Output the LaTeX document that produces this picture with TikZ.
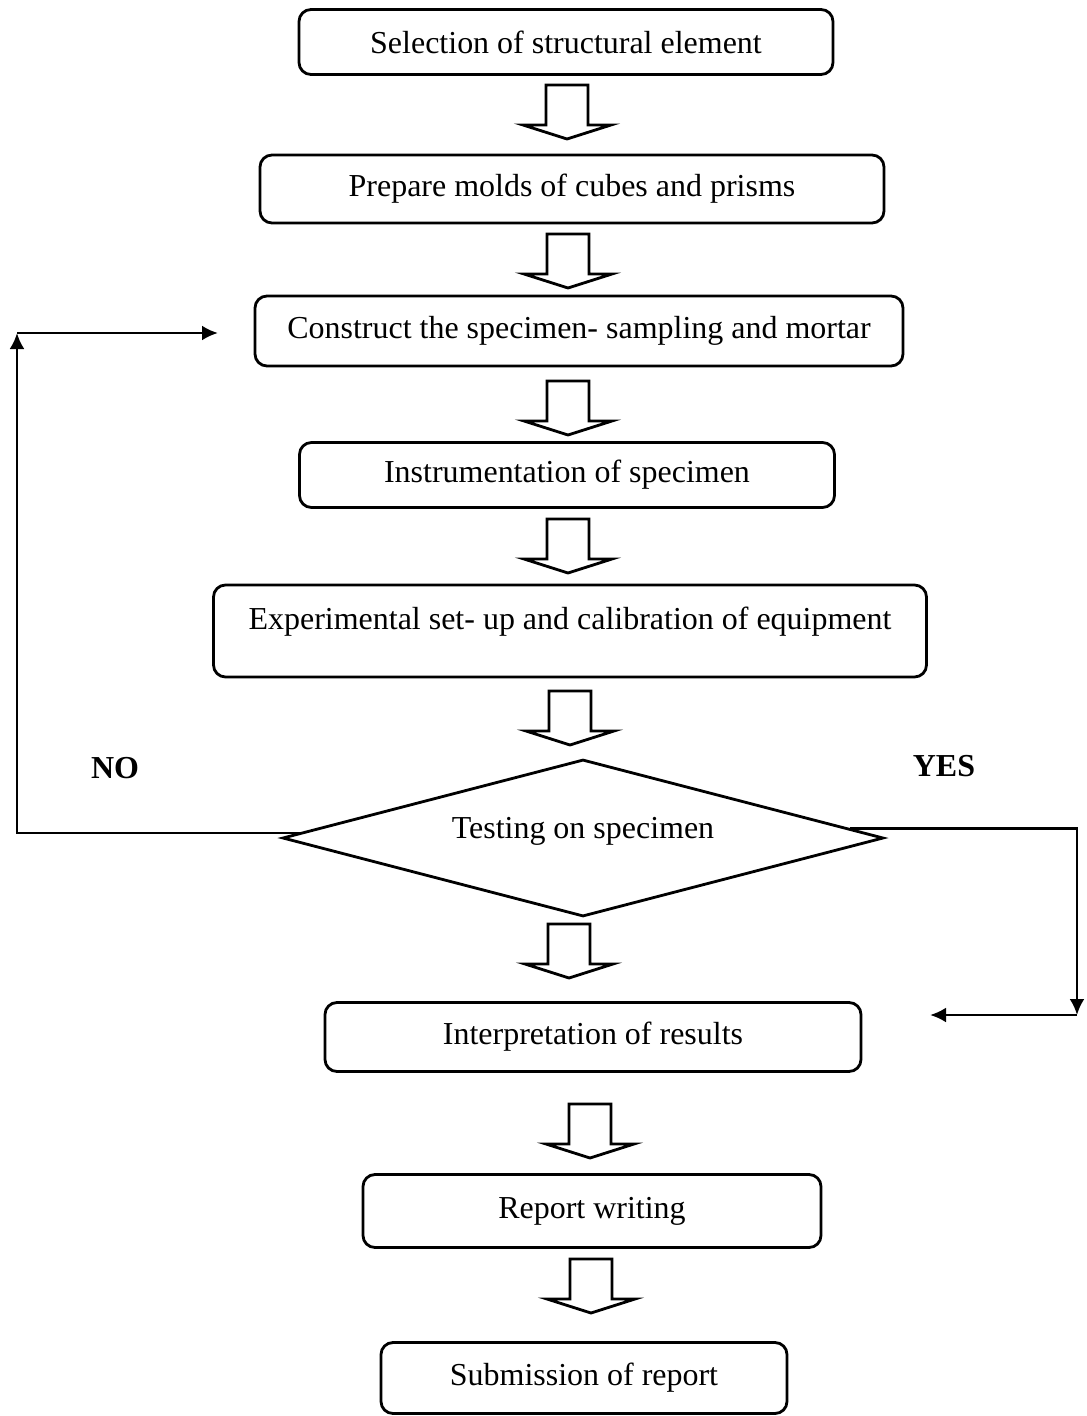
\documentclass[tikz,border=0pt]{standalone}
\usepackage{fontspec}
\setmainfont{Liberation Serif}
\usetikzlibrary{shapes.geometric}
\usetikzlibrary{arrows.meta}

\begin{document}
\begin{tikzpicture}[
    x=0.02cm, y=-0.02cm,
    % Define box and decision styles
    box/.style={draw, line width=1.6pt, rounded corners=0.24cm, inner sep=0pt, align=center,
                font=\fontsize{18.2}{22}\selectfont},
    decision/.style={draw, diamond, line width=1.6pt, inner sep=0pt, aspect=3.8,
                font=\fontsize{18.2}{22}\selectfont},
    answer/.style={font=\fontsize{18.2}{22}\selectfont\bfseries},
    loop/.style={line width=1.6pt, -{Latex[length=0.32cm, width=0.3cm]}},
    % Hollow down arrow between steps
    blockdown/.pic={
        \draw[line width=1.6pt, line join=miter]
            (-21,0) -- (21,0) -- (21,40) -- (44,40) -- (0,54) -- (-44,40) -- (-21,40) -- cycle;
    }
]

\def\px{0.02cm}
\useasboundingbox (0,0) rectangle (1087,1416);

% Steps
\node[box, minimum width=534*\px, minimum height=65*\px] (select) at (566,42) {Selection of structural element};
\node[box, minimum width=624*\px, minimum height=68*\px] (molds) at (572,189) {Prepare molds of cubes and prisms};
\node[box, minimum width=648*\px, minimum height=70*\px] (construct) at (579,331) {Construct the specimen- sampling and mortar};
\node[box, minimum width=535*\px, minimum height=65*\px] (instrument) at (567,475) {Instrumentation of specimen};
\node[box, minimum width=713*\px, minimum height=92*\px] (setup) at (570,631) {Experimental set- up and calibration of equipment\\[-8pt]~};
\node[decision, minimum width=601*\px, minimum height=157*\px] (test) at (583,838) {\raisebox{11pt}{Testing on specimen}};
\node[box, minimum width=536*\px, minimum height=69*\px] (interpret) at (593,1037) {Interpretation of results};
\node[box, minimum width=458*\px, minimum height=73*\px] (report) at (592,1211) {Report writing};
\node[box, minimum width=406*\px, minimum height=71*\px] (submit) at (584,1378) {Submission of report};

% Hollow arrows between steps
\pic at (567,85) {blockdown};
\pic at (568,234) {blockdown};
\pic at (568,381) {blockdown};
\pic at (568,519) {blockdown};
\pic at (570,691) {blockdown};
\pic at (569,924) {blockdown};
\pic at (590,1104) {blockdown};
\pic at (591,1259) {blockdown};

% Answer labels
\node[answer] (no) at (115,768) {NO};
\node[answer] (yes) at (944,766) {YES};

% Loop back on NO
\coordinate (nocorner) at (17,333);
\coordinate (noend) at (218,333);
\draw[loop] (test.179) -| (nocorner);
\draw[loop] (nocorner) -- (noend);

% Go on with YES
\coordinate (yescorner) at (1077,1015);
\coordinate (yesend) at (930,1015);
\draw[loop] (test.2.6) -| (yescorner);
\draw[loop] (yescorner) -- (yesend);

\end{tikzpicture}
\end{document}
